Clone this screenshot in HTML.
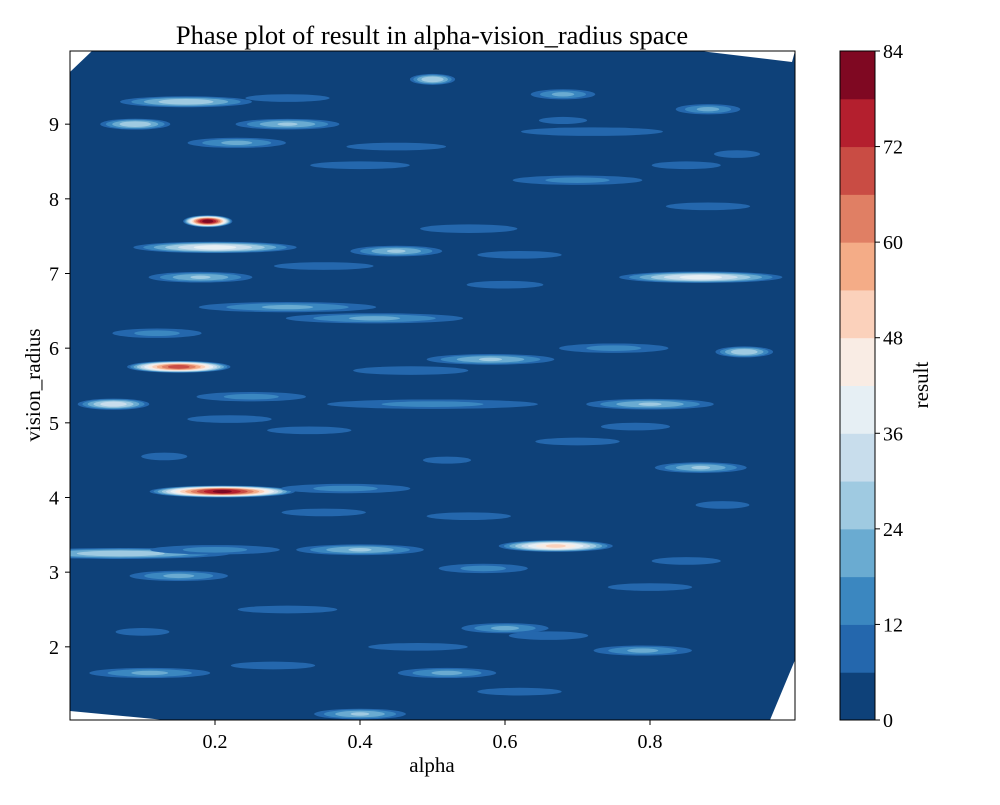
<!DOCTYPE html>
<html><head><meta charset="utf-8">
<style>
body{margin:0;background:#fff;}
svg text{font-family:"Liberation Serif",serif;fill:#000;}
</style></head>
<body>
<svg id="chart" width="1000" height="800" viewBox="0 0 1000 800">
<defs><clipPath id="pc"><rect x="70" y="51" width="725" height="669"/></clipPath></defs>
<text x="432" y="44" font-size="26.5" text-anchor="middle">Phase plot of result in alpha-vision_radius space</text>
<g id="plot" clip-path="url(#pc)"></g>
<rect x="70" y="51" width="725" height="669" fill="none" stroke="#000" stroke-width="1"/>
<g id="axes"></g>
<text x="432" y="772" font-size="21" text-anchor="middle">alpha</text>
<text transform="translate(40,385) rotate(-90)" font-size="21" text-anchor="middle">vision_radius</text>
<g id="cbar"></g>
<text transform="translate(928,385) rotate(-90)" font-size="21" text-anchor="middle">result</text>
</svg>
<script>
const levels=[0,6,12,18,24,30,36,42,48,54,60,66,72,78,84];
const levelColors=["#0e4179","#2467ad","#3b87c0","#6aabd1","#9fcae1","#c8ddec","#e6eff4","#f9ece4","#fbd1bb","#f4ac87","#e07f64","#c94c44","#b41f2e","#7f0822"];
const xTicks=[0.2,0.4,0.6,0.8];
const yTicks=[2,3,4,5,6,7,8,9];
const cTicks=[0,12,24,36,48,60,72,84];
// streaks: alpha, vision_radius, peak result, half-length (alpha units)
const streakAlpha=[0.19,0.15,0.21,0.67,0.07,0.20,0.87,0.16,0.09,0.30,0.45,0.18,0.42,0.30,0.06,0.58,0.80,0.87,0.40,0.50,0.38,0.60,0.40,0.11,0.79,0.50,0.68,0.88,0.70,0.55,0.72,0.93,0.52,0.57,0.20,0.40,0.30,0.80,0.88,0.70,0.25,0.12,0.33,0.62,0.90,0.45,
0.23,0.35,0.60,0.75,0.92,0.15,0.28,0.48,0.66,0.85,0.10,0.35,0.55,0.78,0.22,0.47,0.62,0.85,0.30,0.13,0.68,0.52];
const streakRadius=[7.7,5.75,4.08,3.35,3.25,7.35,6.95,9.3,9.0,9.0,7.3,6.95,6.4,6.55,5.25,5.85,5.25,4.4,3.3,5.25,4.12,2.25,1.1,1.65,1.95,9.6,9.4,9.2,8.25,7.6,8.9,5.95,1.65,3.05,3.3,8.45,2.5,2.8,7.9,4.75,5.35,6.2,4.9,1.4,3.9,8.7,
8.75,7.1,6.85,6.0,8.6,2.95,1.75,2.0,2.15,3.15,2.2,3.8,3.75,4.95,5.05,5.7,7.25,8.45,9.35,4.55,9.05,4.5];
const streakPeak=[80,70,80,50,30,40,40,30,30,25,25,25,20,20,35,25,25,25,25,15,15,20,25,20,20,30,20,20,15,12,12,30,20,15,15,10,10,10,10,10,15,15,10,10,10,10,
20,10,10,15,10,20,10,10,12,10,10,10,10,10,10,12,10,10,10,10,9,9];
const streakLen=[0.03,0.07,0.1,0.08,0.17,0.12,0.12,0.1,0.05,0.08,0.07,0.08,0.15,0.15,0.05,0.1,0.1,0.07,0.1,0.2,0.12,0.07,0.07,0.1,0.08,0.03,0.05,0.05,0.12,0.1,0.15,0.04,0.08,0.08,0.12,0.12,0.12,0.1,0.1,0.1,0.1,0.08,0.1,0.1,0.06,0.12,
0.08,0.12,0.09,0.1,0.05,0.08,0.1,0.12,0.08,0.08,0.06,0.1,0.1,0.08,0.1,0.12,0.1,0.08,0.1,0.05,0.06,0.06];
const NS="http://www.w3.org/2000/svg";
const X0=70,X1=795,Y0=720,Y1=51;
const xs=a=>X0+(a-0)*(X1-X0)/1;
const ys=r=>Y0-(r-1.02)*(Y0-Y1)/(9.98-1.02);
function mk(t,at){const e=document.createElementNS(NS,t);for(const k in at)e.setAttribute(k,at[k]);return e;}
const plot=document.getElementById('plot');
const bg=mk('rect',{x:X0,y:Y1,width:X1-X0,height:Y0-Y1,fill:levelColors[0]});


plot.appendChild(bg);
for(let i=0;i<streakAlpha.length;i++){
  const g=mk('g',{});
  
  
  for(let k=1;k<levelColors.length;k++){
    const t=levels[k];if(t>=streakPeak[i])break;
    const f=Math.pow(1-t/streakPeak[i],0.7);
    const el=mk('ellipse',{cx:xs(streakAlpha[i]),cy:ys(streakRadius[i]),rx:streakLen[i]*725*f+4,ry:5*f+1.2,fill:levelColors[k]});
    
    
    g.appendChild(el);
  }
  plot.appendChild(g);
}
[["70,51 92,51 70,72"],["700,51 795,51 792,62"],["70,711 165,720 70,720"],["770,720 795,660 795,720"]].forEach(p=>{
  const w=mk('polygon',{points:p[0],fill:'#fff'});
  
  
  plot.appendChild(w);
});
const axes=document.getElementById('axes');
xTicks.forEach(v=>{
  const l=mk('line',{x1:xs(v),x2:xs(v),y1:720,y2:725,stroke:'#000'});
  
  
  axes.appendChild(l);
  const t=mk('text',{x:xs(v),y:748,'font-size':20,'text-anchor':'middle'});t.textContent=v.toFixed(1);
  
  
  axes.appendChild(t);
});
yTicks.forEach(v=>{
  const l=mk('line',{x1:65,x2:70,y1:ys(v),y2:ys(v),stroke:'#000'});
  
  
  axes.appendChild(l);
  const t=mk('text',{x:59,y:ys(v)+7,'font-size':20,'text-anchor':'end'});t.textContent=v;
  
  
  axes.appendChild(t);
});
const cb=document.getElementById('cbar');
const CX=840,CW=35,CY0=720,CY1=51;
const cs=v=>CY0-v*(CY0-CY1)/84;
for(let k=0;k<levelColors.length;k++){
  const r=mk('rect',{x:CX,y:cs(levels[k+1]),width:CW,height:cs(levels[k])-cs(levels[k+1])+0.5,fill:levelColors[k]});
  
  
  cb.appendChild(r);
}
const fr=mk('rect',{x:CX,y:CY1,width:CW,height:CY0-CY1,fill:'none',stroke:'#000'});


cb.appendChild(fr);
cTicks.forEach(v=>{
  const l=mk('line',{x1:CX+CW,x2:CX+CW+5,y1:cs(v),y2:cs(v),stroke:'#000'});
  
  
  cb.appendChild(l);
  const t=mk('text',{x:CX+CW+8,y:cs(v)+7,'font-size':20});t.textContent=v;
  
  
  cb.appendChild(t);
});
</script>
</body></html>
